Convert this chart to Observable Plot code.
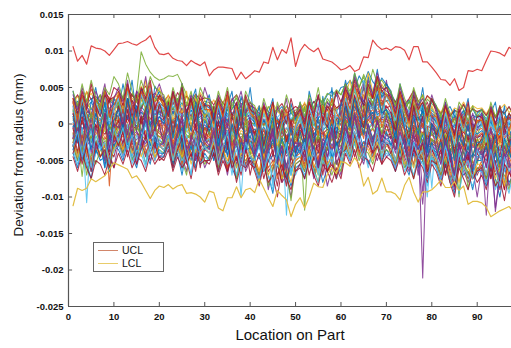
<!DOCTYPE html>
<html>
<head>
<meta charset="utf-8">
<script src="https://cdn.jsdelivr.net/npm/d3@7"></script>
<script src="https://cdn.jsdelivr.net/npm/@observablehq/plot@0.6"></script>
<style>
  html, body { margin: 0; padding: 0; background: #fff; }
  #wrap { position: relative; width: 511px; height: 348px; font-family: "Liberation Sans", Arial, sans-serif; }
  .ylab { position: absolute; left: -81px; top: 147px; width: 200px; height: 16px; line-height: 16px; text-align: center; font-size: 13.5px; color: #111; transform: rotate(-90deg); transform-origin: 50% 50%; }
  .xlab { position: absolute; left: 190px; top: 327px; width: 200px; text-align: center; font-size: 15px; line-height: 16px; color: #111; }
  .legend { position: absolute; left: 93px; top: 242px; width: 69px; height: 28px; border: 1px solid #666; background: #fff; font-size: 10.5px; color: #111; }
  .legend .row { position: absolute; left: 0; height: 12px; width: 69px; }
  .legend .sw { position: absolute; left: 4px; top: 6px; width: 20px; height: 0; border-top: 1px solid; }
  .legend .tx { position: absolute; left: 28px; top: 0px; line-height: 12px; height: 12px; }
</style>
</head>
<body>
<div id="wrap"></div>
<script>
// ---------- data ----------
const xTicks = [0, 10, 20, 30, 40, 50, 60, 70, 80, 90];
const yTicks = [-0.025, -0.02, -0.015, -0.01, -0.005, 0, 0.005, 0.01, 0.015];
const legendLabels = ["UCL", "LCL"];
const xLabel = "Location on Part";
const yLabel = "Deviation from radius (mm)";

// Upper control limit (mm), locations 1..98
const ucl = [0.0106,0.0086,0.0094,0.0082,0.0107,0.0104,0.0103,0.0100,0.0094,0.0102,
  0.0110,0.0111,0.0113,0.0110,0.0108,0.0112,0.0115,0.0121,0.0105,0.0096,
  0.0095,0.0097,0.0090,0.0087,0.0086,0.0080,0.0087,0.0083,0.0080,0.0085,
  0.0066,0.0074,0.0078,0.0078,0.0077,0.0076,0.0061,0.0071,0.0062,0.0067,
  0.0073,0.0071,0.0085,0.0083,0.0105,0.0088,0.0102,0.0097,0.0118,0.0079,
  0.0100,0.0109,0.0103,0.0099,0.0104,0.0089,0.0087,0.0085,0.0080,0.0074,
  0.0076,0.0080,0.0072,0.0075,0.0092,0.0091,0.0115,0.0107,0.0102,0.0104,
  0.0101,0.0106,0.0105,0.0101,0.0088,0.0106,0.0106,0.0085,0.0085,0.0078,
  0.0070,0.0061,0.0060,0.0053,0.0062,0.0046,0.0050,0.0073,0.0072,0.0075,
  0.0073,0.0087,0.0100,0.0099,0.0097,0.0093,0.0105,0.0101];

// Lower control limit (mm), locations 1..98
const lcl = [-0.0112,-0.0088,-0.0091,-0.0088,-0.0075,-0.0079,-0.0075,-0.0071,-0.0062,-0.0053,
  -0.0056,-0.0059,-0.0062,-0.0074,-0.0071,-0.0080,-0.0091,-0.0102,-0.0091,-0.0085,
  -0.0087,-0.0083,-0.0089,-0.0085,-0.0083,-0.0095,-0.0094,-0.0096,-0.0100,-0.0107,
  -0.0092,-0.0094,-0.0115,-0.0119,-0.0101,-0.0101,-0.0086,-0.0101,-0.0090,-0.0088,
  -0.0094,-0.0075,-0.0088,-0.0101,-0.0113,-0.0091,-0.0098,-0.0104,-0.0127,-0.0110,
  -0.0101,-0.0115,-0.0100,-0.0081,-0.0086,-0.0087,-0.0069,-0.0060,-0.0068,-0.0052,
  -0.0053,-0.0058,-0.0046,-0.0055,-0.0085,-0.0073,-0.0096,-0.0091,-0.0074,-0.0093,
  -0.0093,-0.0096,-0.0104,-0.0084,-0.0073,-0.0093,-0.0107,-0.0093,-0.0093,-0.0090,
  -0.0084,-0.0077,-0.0087,-0.0087,-0.0079,-0.0091,-0.0085,-0.0110,-0.0106,-0.0106,
  -0.0108,-0.0114,-0.0127,-0.0123,-0.0119,-0.0116,-0.0113,-0.0120];

// Measured profiles, in units of 0.0001 mm, locations 1..98 (estimated)
const bandUnit = 0.0001;
const bandSeries = [
 "24 31 19 27 35 22 29 18 33 26 28 36 24 41 30 22 38 27 33 45 31 20 27 35 18 26 22 30 17 28 25 16 30 21 13 27 19 24 32 15 18 9 22 12 6 17 24 10 15 8 14 23 11 20 27 16 9 22 18 25 30 41 27 36 48 33 25 39 44 31 35 22 29 18 31 24 14 27 20 33 19 8 16 24 11 5 18 13 21 9 15 7 18 10 22 13 6 16",
 "-12 -20 -8 -17 -25 -14 -6 -19 -22 -10 -14 -5 -18 -9 -2 -15 -11 -21 -7 -13 -19 -10 -24 -13 -8 -20 -16 -27 -12 -18 -22 -14 -28 -17 -11 -25 -20 -31 -15 -23 -30 -21 -38 -25 -33 -19 -41 -28 -35 -24 -18 -27 -15 -32 -20 -25 -36 -19 -28 -23 -12 -4 -16 -7 1 -10 -18 -5 -13 -9 -10 -19 -7 -24 -13 -17 -28 -11 -20 -15 -22 -31 -18 -35 -27 -40 -24 -33 -29 -37 -32 -25 -41 -30 -36 -22 -39 -34",
 "10 17 8 15 21 12 6 18 14 9 22 14 27 19 11 24 16 29 20 13 9 17 21 11 15 6 19 12 24 10 14 7 18 11 3 16 9 13 20 5 -3 6 -1 9 2 -6 5 -35 4 8 10 3 12 -2 8 15 5 -40 9 4 24 16 28 19 33 22 14 26 30 18 10 18 22 7 15 12 -30 17 9 13 6 -3 8 1 -5 10 -2 4 -8 3 3 -4 6 -1 5 -6 2 -3",
 "-6 3 -9 1 -4 5 -11 -1 4 -7 7 -2 9 1 -5 11 4 -3 8 0 2 -7 5 -4 -10 1 -3 6 -8 -1 -9 -2 -12 -6 1 -8 -15 -4 -10 -3 -17 -9 -20 -11 -24 -14 -7 -19 -12 -16 -5 -13 -8 -16 -3 -11 -18 -7 -12 -10 9 1 12 4 -3 8 15 2 10 6 3 -6 5 -2 7 -4 -8 -211 -5 1 -9 -17 -11 -22 -14 -8 -19 -26 -12 -16 -18 -11 -24 -14 -20 -9 -17 -22",
 "5 12 3 10 16 7 1 13 9 20 28 22 35 30 42 99 82 71 64 60 62 66 65 68 55 40 28 32 18 25 9 2 14 6 -2 11 4 17 7 0 1 -7 4 -10 -2 6 -5 -12 2 -8 5 -3 8 -1 -6 4 10 -2 7 0 19 10 24 13 28 17 8 22 14 20 13 5 17 2 11 22 7 14 3 10 1 -8 4 -5 -12 -1 6 -9 -3 -14 -1 -10 3 -7 -13 -2 -8 -4",
 "22 14 27 19 11 25 16 30 21 13 19 28 16 32 24 20 35 26 18 29 24 13 21 28 15 19 10 25 22 14 11 20 8 17 24 13 19 6 16 22 3 12 -1 9 15 5 -4 10 2 13 15 7 18 4 12 20 9 14 6 17 21 30 18 36 27 24 40 29 33 22 25 14 22 28 11 19 24 16 30 13 11 3 14 -2 9 5 16 1 8 12 9 1 12 -3 7 4 10 2",
 "-3 -12 -5 -108 -9 -2 -14 -6 -10 -1 -6 3 -9 1 -4 -11 0 -7 4 -3 -11 -3 -14 -8 -1 -10 -16 -5 -12 -6 -14 -6 -18 -9 -2 -13 -20 -100 -15 -11 -22 -14 -26 -17 -28 -19 -12 -125 -20 -15 -10 -18 -7 -21 -13 -16 -24 -9 -19 -12 4 -5 7 -2 10 -6 3 -9 5 -1 -2 -11 4 -8 -14 -3 -9 -5 -12 -88 -14 -22 -11 -26 -17 -20 -29 -13 -24 -16 -24 -16 -28 -19 -13 -25 -21 -30",
 "7 -1 10 2 -5 8 4 12 -85 6 4 12 1 15 9 5 18 7 11 3 8 -2 6 11 0 4 -5 9 2 7 -4 5 -8 2 7 -3 -9 4 -1 6 -12 -4 -15 -7 -1 -11 -18 -6 -13 -9 0 -8 3 -6 -11 -2 5 -9 -4 -7 14 6 17 9 2 13 20 8 15 11 8 0 11 -3 6 14 2 -5 9 5 -4 -13 -1 -10 -16 -6 -11 -3 -14 -9 -6 -15 -3 -12 -18 -8 -13 -11",
 "28 38 25 34 42 30 27 45 33 36 40 32 47 35 30 52 38 44 31 39 35 27 40 30 24 37 33 28 43 32 24 33 20 30 37 26 22 35 29 25 16 25 12 22 28 18 10 24 19 14 28 20 31 17 25 33 22 27 19 30 42 34 48 37 55 40 36 50 44 39 36 28 40 25 33 45 30 27 38 31 24 16 28 13 22 19 30 17 25 21 22 14 25 11 20 27 16 19",
 "-30 -20 -35 -24 -18 -32 -27 -40 -22 -29 -16 -25 -12 -28 -21 -17 -31 -23 -19 -26 -29 -20 -34 -24 -38 -22 -28 -19 -33 -26 -32 -24 -37 -27 -42 -30 -23 -35 -29 -40 -40 -31 -46 -35 -52 -38 -30 -44 -37 -48 -28 -37 -24 -41 -30 -35 -45 -27 -38 -33 -22 -14 -27 -17 -10 -24 -19 -30 -15 -21 -28 -19 -33 -22 -37 -25 -70 -21 -30 -26 -32 -41 -28 -45 -35 -50 -33 -39 -47 -37 -42 -33 -48 -37 -55 -40 -35 -46",
 "17 26 14 23 30 19 12 25 21 28 30 22 35 25 19 33 28 24 38 27 17 25 13 22 29 18 24 11 20 26 22 14 26 17 10 21 28 15 19 24 6 14 2 11 18 8 -1 12 5 15 18 10 24 30 35 28 40 45 38 50 52 60 48 66 55 72 58 50 63 54 42 30 38 25 33 20 28 15 22 18 14 6 17 3 11 8 19 4 12 9 12 4 15 1 10 6 13 7",
 "-8 -16 -72 -19 -11 -6 -14 -9 -20 -13 -3 -11 0 -14 -6 -9 -2 -13 -5 -10 -16 -8 -19 -11 -4 -15 -21 -9 -14 -7 -11 -19 -8 -22 -14 -6 -17 -13 -20 -10 -19 -27 -15 -30 -22 -34 -18 -25 -29 -21 -15 -118 -12 -26 -18 -22 -14 -20 -17 -24 -1 -9 2 -12 -4 -7 0 -11 -3 -8 -7 -15 -4 -18 -10 -13 -6 -16 -9 -14 -19 -27 -15 -31 -22 -100 -18 -26 -20 -29 -21 -29 -18 -32 -24 -27 -20 -30",
 "2 10 -1 8 13 4 -3 11 6 15 15 7 19 10 4 16 12 21 8 14 10 2 13 5 -1 9 15 3 7 11 -1 7 -4 5 10 1 -6 8 3 -2 -1 -9 2 -7 -12 -3 -10 -5 -14 -2 3 -5 6 -3 -8 1 -4 7 -2 4 17 9 21 12 6 18 24 11 15 8 11 3 14 1 9 16 5 -2 10 6 -1 -9 2 -12 -4 -7 0 -10 -3 -8 -3 -11 0 -14 -6 -9 -2 -12",
 "-15 -23 -12 -26 -18 -29 -16 -21 -11 -24 -10 -18 -7 -21 -13 -16 -9 -20 -12 -17 -23 -15 -27 -18 -11 -22 -30 -16 -20 -13 -18 -26 -14 -29 -21 -25 -17 -32 -20 -24 -26 -34 -22 -37 -29 -33 -25 -40 -28 -31 -30 -22 -34 -25 -18 -29 -23 -33 -27 -21 -8 -16 -5 -19 -11 -14 -7 -18 -10 -15 -14 -22 -11 -25 -17 -20 -13 -24 -16 -21 -26 -34 -23 -38 -29 -32 -25 -36 -28 -33 -28 -36 -25 -40 -31 -34 -27 -38",
 "15 7 18 10 4 14 20 9 13 6 12 20 9 23 15 19 11 25 14 18 15 6 18 10 22 8 13 4 16 9 12 4 15 7 1 10 17 5 9 13 4 -4 7 -2 -8 3 -5 9 -1 -6 8 0 11 2 -4 6 13 1 5 -2 22 14 26 17 11 23 30 16 20 13 16 8 19 5 13 21 10 -2 15 9 4 -5 7 -3 -9 2 -6 5 -1 -8 2 -7 5 -4 -10 1 -6 3",
 "-1 -9 2 -7 -12 -3 -8 -14 -4 -6 4 -4 7 -2 -7 3 10 -1 5 -3 -1 -9 3 -6 -12 -2 -8 -15 -4 -7 -4 -12 -1 -10 -16 -6 -11 -3 -14 -9 -12 -20 -9 -23 -15 -18 -11 -22 -14 -19 -8 -16 -5 -19 -11 -14 -7 -18 -10 -15 6 -2 9 0 -5 5 12 -1 7 3 0 -8 3 -6 -11 -2 -7 -13 -3 -5 -12 -20 -9 -24 -15 -18 -11 -22 -14 -19 -14 -22 -11 -26 -17 -20 -13 -24",
 "19 11 22 14 8 18 25 12 16 21 24 16 28 19 13 25 31 18 22 15 19 10 23 14 8 18 26 12 16 21 8 16 5 14 20 10 3 15 11 18 0 8 -3 6 12 2 -5 9 4 15 12 20 28 22 35 30 42 38 47 40 55 45 62 50 68 52 44 60 48 56 40 28 35 22 30 18 26 20 14 22 8 0 11 -2 6 3 10 -4 7 1 6 -2 9 -5 4 1 8 -1",
 "-4 5 -7 2 8 -2 -9 4 -1 6 9 1 12 3 -3 8 14 2 6 10 4 -5 7 -2 -8 3 9 -4 1 -6 1 -7 4 -5 -10 -1 -8 3 -4 -12 -7 -15 -4 -18 -10 -13 -6 -17 -9 -14 -3 -11 0 -14 -6 -9 -2 -12 -5 -10 11 3 14 5 -1 10 16 4 8 12 5 -3 8 -1 -6 4 10 -2 6 0 -7 -15 -4 -18 -10 -13 -6 -17 -9 -14 -9 -17 -6 -20 -12 -15 -8 -18",
 "35 26 40 30 48 33 25 42 36 29 28 37 24 40 31 45 27 35 30 38 26 18 30 20 14 25 32 17 23 28 12 20 8 18 24 14 6 19 15 22 2 10 -1 8 14 4 -3 11 5 0 14 6 17 8 2 12 19 7 11 15 30 22 34 25 40 28 20 35 27 32 22 14 26 11 19 28 16 9 21 15 10 2 13 -1 7 4 15 0 8 3 8 0 11 -3 6 2 9 -1",
 "-28 -37 -24 -41 -30 -35 -45 -27 -38 -33 -23 -31 -19 -35 -26 -30 -22 -34 -25 -29 -36 -27 -40 -31 -45 -29 -35 -25 -38 -33 -31 -40 -27 -44 -34 -38 -30 -48 -36 -32 -39 -48 -35 -52 -42 -46 -38 -56 -41 -45 -35 -44 -31 -48 -38 -42 -34 -47 -37 -41 -21 -29 -18 -33 -24 -28 -20 -32 -23 -27 -27 -35 -24 -39 -30 -34 -26 -38 -29 -33 -39 -47 -35 -52 -42 -46 -38 -50 -41 -45 -41 -50 -37 -54 -44 -48 -40 -52",
 "33 24 37 27 21 31 40 26 29 35 29 38 26 42 32 36 28 45 31 37 24 32 21 35 27 30 23 38 26 31 29 21 33 24 18 28 35 22 26 30 13 21 10 24 16 20 12 25 15 19 25 17 28 20 14 24 31 18 22 27 39 31 44 34 50 37 30 46 38 42 33 25 37 22 30 41 27 20 34 28 21 13 24 10 18 15 26 12 20 16 19 11 22 8 17 14 23 12",
 "-14 -5 -17 -8 -2 -12 -19 -6 -10 -15 -8 1 -11 -3 4 -7 -13 -1 -6 2 -5 -13 -2 -16 -8 -11 -4 -18 -7 -12 -16 -8 -20 -11 -5 -15 -22 -9 -13 -18 -24 -16 -28 -19 -13 -23 -31 -17 -21 -26 -12 -20 -9 -24 -15 -18 -11 -22 -14 -19 2 -6 5 -3 -9 1 7 -5 0 -4 -4 -12 -1 -15 -7 -10 -3 -14 -6 -11 -16 -24 -13 -27 -19 -22 -15 -26 -18 -23 -18 -26 -15 -29 -21 -24 -17 -28",
 "13 21 10 24 16 19 12 26 15 20 26 18 30 21 15 27 33 19 24 17 21 13 25 16 10 20 27 14 18 23 10 18 7 21 13 16 9 22 12 17 10 2 13 5 -1 9 16 4 8 12 6 14 3 17 9 12 5 18 8 13 28 20 32 23 17 29 36 21 26 19 14 22 11 25 17 20 13 26 16 21 10 2 14 4 -2 9 16 3 7 11 0 8 -3 11 3 6 -1 9",
 "-18 -26 -15 -30 -21 -25 -17 -29 -20 -24 -21 -13 -25 -16 -10 -20 -27 -14 -18 -23 -26 -18 -30 -21 -15 -25 -33 -19 -23 -28 -21 -29 -18 -33 -24 -28 -20 -31 -23 -27 -37 -29 -41 -32 -26 -36 -44 -30 -34 -39 -25 -33 -22 -37 -28 -31 -24 -36 -27 -32 -19 -11 -23 -14 -8 -18 -25 -12 -16 -21 -17 -25 -14 -29 -20 -24 -16 -95 -19 -23 -29 -37 -26 -41 -32 -36 -28 -40 -31 -35 -31 -39 -28 -43 -34 -38 -30 -42",
 "31 40 28 44 34 38 30 47 33 37 44 36 49 39 33 45 52 37 42 35 31 39 27 43 34 38 30 41 33 36 34 26 38 29 23 33 40 27 31 25 22 14 25 17 11 21 28 15 19 24 20 28 17 31 23 27 19 32 22 26 46 38 51 41 57 44 36 53 45 40 38 30 42 27 35 46 32 25 39 33 22 14 25 11 19 16 27 13 21 17 20 12 23 9 18 15 24 13",
 "1 -7 4 -5 -10 -1 -8 3 -4 -12 -2 6 -5 9 1 4 -3 8 0 5 1 -7 4 -10 -2 -6 2 -9 -1 -5 -10 -2 -13 -5 1 -9 -15 -3 -7 -11 -10 -18 -7 -21 -13 -16 -9 -20 -12 -17 -14 -6 -17 -9 -3 -13 -20 -7 -11 -15 0 8 -3 11 3 6 -1 10 2 7 -6 2 -9 -1 5 -5 -11 1 -3 -7 -10 -18 -7 -22 -13 -16 -9 -20 -12 -17 -12 -20 -9 -24 -15 -18 -11 -22",
 "13 5 16 8 2 12 19 6 10 14 10 18 7 21 13 16 9 22 12 17 13 5 17 8 2 12 19 6 10 15 2 10 -1 13 5 8 1 12 4 9 2 -6 5 -4 -9 1 -7 4 -3 -11 -2 6 -5 9 1 4 -3 8 0 5 20 12 24 15 9 21 28 13 18 11 6 14 3 17 9 12 5 18 8 13 2 -6 5 -9 -1 -4 3 -8 0 -5 0 -8 3 -11 -3 -6 1 -9",
 "-13 -21 -10 -24 -16 -19 -12 -25 -15 -20 -16 -8 -19 -11 -5 -15 -22 -9 -13 -18 -13 -21 -10 -25 -16 -19 -12 -24 -15 -20 -24 -16 -28 -19 -13 -23 -30 -17 -21 -26 -24 -32 -21 -35 -27 -30 -23 -36 -26 -31 -28 -20 -32 -23 -17 -27 -34 -21 -25 -30 -6 -14 -3 -17 -9 -12 -5 -16 -8 -13 -20 -12 -24 -15 -9 -19 -26 -13 -17 -22 -24 -32 -21 -36 -27 -30 -23 -35 -26 -31 -26 -34 -23 -38 -29 -32 -25 -36",
 "-40 -60 -30 -55 -75 -35 -50 -45 -65 -30 -35 -50 -25 -45 -60 -30 -40 -55 -20 -45 -45 -30 -60 -40 -70 -35 -50 -25 -55 -40 -50 -35 -65 -45 -30 -60 -75 -40 -55 -45 -60 -80 -50 -70 -95 -55 -75 -65 -85 -60 -55 -75 -45 -65 -50 -80 -60 -40 -70 -55 -35 -50 -25 -45 -30 -55 -40 -20 -50 -35 -45 -65 -35 -55 -70 -40 -60 -50 -75 -45 -60 -80 -50 -75 -95 -55 -70 -65 -90 -60 -65 -85 -55 -75 -100 -60 -80 -70",
 "30 -15 22 -28 10 35 -20 5 -32 18 40 -5 28 -18 45 12 -22 38 0 25 -20 30 -8 25 -35 15 40 -12 20 -25 10 -30 22 -15 35 -40 5 28 -22 12 -35 5 -45 -10 20 -50 -5 15 -38 0 18 -30 10 -42 25 -8 -55 12 -20 30 45 5 38 -10 55 20 -5 42 15 60 20 -25 35 -10 -45 25 -30 10 -60 15 -20 -50 10 -35 -65 0 -30 -55 5 -40 -25 -60 -5 -40 15 -55 -20 -35",
 "45 10 38 -5 30 50 15 42 -8 35 20 55 25 60 10 48 30 -5 52 40 35 -10 42 15 55 0 30 48 -15 25 40 5 32 -20 25 45 -5 38 10 50 0 25 -30 15 35 -20 10 -40 28 5 30 -10 45 20 -25 38 5 50 -15 25 60 30 70 45 25 65 40 75 35 55 45 10 55 25 -10 40 15 50 0 35 25 -15 30 -5 20 -35 10 35 -20 15 20 -25 15 30 -10 25 -30 10",
 "-30 -50 -20 -45 -65 -35 -25 -55 -40 -60 -25 -45 -15 -40 -55 -20 -35 -50 -30 -45 -40 -20 -55 -30 -45 -65 -25 -50 -35 -60 -45 -30 -60 -40 -70 -35 -55 -25 -65 -50 -55 -75 -45 -90 -60 -50 -80 -70 -100 -55 -50 -65 -40 -75 -55 -45 -85 -60 -50 -70 -30 -45 -20 -40 -55 -25 -35 -50 -30 -45 -40 -60 -30 -50 -65 -35 -55 -45 -70 -40 -55 -75 -45 -70 -90 -50 -65 -80 -60 -100 -60 -80 -50 -115 -70 -55 -85 -65",
 "-5 -40 10 -30 -55 0 -25 15 -45 -10 5 -30 20 -15 -45 10 -20 25 -35 0 -30 5 -45 -15 10 -50 -20 0 -60 -25 -10 -45 5 -35 -60 -15 10 -40 -25 -70 -40 -15 -65 -30 -5 -55 -80 -25 -45 -10 -35 -60 -15 -50 -20 -70 -30 -5 -55 -40 5 -30 15 -20 25 -10 -40 10 -25 0 -20 5 -45 -15 -60 -5 -30 -50 -10 -35 -45 -20 -70 -35 -85 -25 -55 -15 -65 -40 -50 -25 -75 -40 -60 -90 -35 -55",
 "20 -10 35 5 -25 25 40 -5 15 -20 30 5 45 15 -10 38 20 50 0 28 10 35 -15 25 -30 20 5 40 -20 15 -15 20 -35 10 30 -25 15 -5 25 -40 -20 10 -35 -5 20 -45 0 -25 -70 -10 -5 25 -30 10 -20 35 -15 5 -40 20 35 10 50 20 -5 45 25 60 15 40 25 -5 40 10 -25 30 0 -40 20 -15 -10 15 -30 5 -45 -20 10 -35 -5 -55 -30 0 -45 -15 5 -40 -20 -10",
 "-25 -45 -15 -40 -55 -30 -20 -50 -35 -45 -20 -40 -10 -35 -50 -25 -45 -15 -40 -30 -35 -15 -50 -25 -60 -30 -45 -20 -55 -35 -40 -25 -55 -35 -65 -30 -50 -20 -60 -45 -50 -70 -40 -65 -55 -85 -45 -75 -60 -50 -45 -60 -35 -70 -50 -40 -65 -55 -75 -45 -25 -40 -15 -35 -50 -20 -45 -30 -40 -25 -35 -55 -25 -45 -60 -30 -50 -40 -65 -35 -50 -70 -40 -65 -85 -45 -60 -75 -55 -70 -55 -75 -45 -70 -60 -90 -50 -65",
 "-20 15 -35 5 -10 25 -30 0 20 -25 10 -15 30 -5 20 -25 15 35 -10 5 -15 20 -30 0 -45 10 -20 25 -35 -5 -25 5 -40 15 -20 -50 0 -30 10 -35 -30 -5 -50 -20 5 -40 -60 -15 -35 -25 -10 -35 5 -25 -50 -5 -30 10 -45 -20 20 -10 30 0 -20 25 5 35 -5 15 0 -25 15 -10 -35 5 -20 -45 -5 -30 -25 0 -40 -15 -55 -10 -35 5 -45 -20 -35 -10 -50 -20 -5 -45 -25 -60",
 "35 0 25 45 10 30 -10 40 20 5 45 20 55 10 40 30 60 15 35 50 25 40 5 30 15 45 -5 35 20 10 20 -5 30 10 40 -15 25 5 35 15 10 -20 20 -5 25 -30 5 15 -25 0 15 30 -5 20 -20 25 10 35 0 -10 40 60 25 50 35 70 45 30 55 40 30 10 45 20 -5 35 15 40 0 25 10 -15 20 0 -25 15 -10 25 -20 5 5 -20 15 -5 -30 10 -15 20",
 "-30 -50 -25 -70 -40 -55 -35 -45 -60 -30 -25 -40 -20 -50 -35 -30 -55 -25 -45 -35 -40 -25 -55 -35 -50 -70 -30 -45 -40 -55 -45 -30 -60 -40 -55 -35 -75 -45 -50 -40 -55 -70 -45 -85 -60 -50 -75 -65 -105 -55 -50 -65 -40 -60 -80 -45 -55 -70 -50 -65 -30 -45 -25 -50 -35 -40 -55 -30 -45 -35 -40 -55 -35 -60 -45 -75 -40 -50 -65 -45 -55 -70 -50 -80 -60 -95 -55 -65 -75 -60 -60 -75 -55 -85 -65 -70 -90 -60",
 "-15 -45 -5 -60 -20 -35 -10 -50 -25 -40 -10 -35 0 -45 -15 -30 -55 -5 -40 -20 -30 -5 -50 -20 -65 -15 -35 -10 -45 -25 -20 -50 -10 -40 -30 -70 -15 -55 -35 -25 -45 -20 -60 -35 -80 -30 -50 -25 -70 -40 -30 -55 -20 -45 -65 -25 -50 -35 -75 -40 -10 -35 0 -25 -45 -5 -30 -15 -40 -20 -25 -50 -15 -40 -20 -60 -30 -45 -35 -55 -40 -65 -30 -55 -75 -35 -50 -25 -60 -45 -45 -70 -35 -55 -30 -65 -50 -75",
 "40 20 50 25 10 45 30 55 15 35 50 30 60 20 45 35 65 25 40 55 35 15 45 25 55 10 40 30 20 50 30 10 40 20 -5 35 25 45 15 30 20 -5 30 5 -20 25 10 35 -10 15 25 5 35 15 40 0 30 20 45 10 55 35 65 45 30 60 40 70 50 45 40 20 50 30 10 45 25 35 15 40 20 0 30 10 -15 25 5 -10 15 -5 15 -10 25 0 20 -15 10 5",
 "-20 -40 -15 -35 -50 -25 -45 -30 -55 -20 -15 -35 -10 -30 -45 -20 -40 -25 -50 -30 -30 -15 -45 -25 -55 -20 -40 -35 -50 -25 -35 -20 -50 -30 -60 -25 -45 -40 -55 -30 -45 -65 -35 -60 -50 -75 -40 -70 -55 -45 -40 -55 -30 -60 -45 -35 -65 -50 -70 -40 -20 -35 -10 -40 -25 -30 -45 -15 -35 -25 -30 -50 -20 -45 -35 -55 -25 -40 -60 -30 -45 -65 -35 -60 -80 -40 -55 -70 -50 -65 -50 -70 -40 -65 -55 -80 -45 -60",
 "-25 5 -40 -10 15 -30 -5 -45 0 -20 -5 20 -20 10 -35 0 25 -15 5 -30 -20 0 -35 -10 -50 5 -25 -40 -5 -30 -30 -10 -45 0 -25 -55 -15 -35 5 -40 -35 -10 -55 -25 0 -45 -20 -65 -30 -15 -25 -45 -5 -35 -15 -55 -30 -10 -40 -20 5 -20 15 -10 25 -5 -30 10 -15 20 -10 -35 5 -25 -45 -15 -5 -30 -55 -20 -30 -50 -15 -40 -25 -60 -35 -90 -45 -20 -40 -15 -55 -30 -65 -25 -45 -35",
 "15 -20 30 0 -10 25 -25 10 35 -5 25 -5 35 10 40 0 20 45 -10 30 5 30 -15 20 -25 15 35 -5 25 -20 0 25 -20 15 -35 10 -15 20 -30 5 -15 10 -30 0 -45 -10 15 -25 5 -40 0 -25 15 -15 -40 10 -5 20 -30 -10 30 0 40 15 -5 35 20 50 10 25 15 -10 30 5 -20 25 -5 10 -35 0 -15 5 -25 -5 -40 0 -20 -50 -10 -30 -20 5 -35 -10 -45 -5 -25 -15",
 "-35 -55 -25 -50 -65 -40 -30 -60 -45 -35 -30 -45 -20 -55 -35 -40 -60 -25 -50 -35 -45 -25 -60 -35 -50 -40 -70 -30 -55 -45 -50 -35 -65 -40 -55 -45 -70 -35 -60 -50 -60 -75 -50 -70 -90 -55 -65 -80 -60 -70 -55 -70 -45 -65 -80 -50 -60 -45 -75 -55 -35 -50 -25 -45 -35 -60 -40 -30 -50 -40 -45 -60 -40 -65 -50 -70 -45 -55 -85 -45 -60 -75 -55 -80 -65 -95 -60 -70 -85 -65 -65 -80 -60 -90 -70 -75 -95 -65",
 "-35 -10 -50 -20 -5 -40 -25 -60 -15 -30 -20 0 -35 -10 -45 -25 5 -30 -15 -40 -40 -15 -55 -25 -5 -45 -30 -60 -20 -35 -30 -50 -20 -45 -10 -40 -60 -25 -35 -15 -50 -25 -65 -40 -20 -55 -35 -75 -45 -30 -40 -20 -55 -30 -60 -35 -15 -50 -25 -45 -15 5 -25 -10 -35 0 -20 -5 -30 -10 -30 -10 -40 -20 -55 -25 -35 -15 -45 -25 -45 -25 -60 -35 -70 -40 -55 -30 -65 -50 -50 -30 -65 -40 -75 -45 -35 -60",
 "25 -5 35 10 -15 30 15 40 0 20 35 10 45 20 0 40 25 50 15 30 20 -5 35 10 40 -10 25 5 30 15 15 -10 25 5 30 -15 20 -5 35 10 5 -20 15 -10 20 -25 0 10 -30 -5 10 -15 25 0 30 -10 15 -20 20 5 35 15 50 25 60 30 20 45 10 40 25 5 35 -5 20 40 10 30 -15 15 5 -20 15 -5 -30 10 -10 20 -25 0 0 -25 10 -15 15 -30 5 -10",
 "-25 -45 -20 -40 -55 -30 -45 -25 -50 -35 -20 -35 -15 -40 -25 -45 -30 -20 -45 -30 -35 -20 -50 -30 -45 -25 -55 -35 -40 -30 -40 -25 -55 -35 -50 -30 -60 -40 -45 -35 -50 -65 -40 -70 -55 -45 -75 -60 -80 -50 -45 -60 -35 -55 -70 -40 -55 -45 -65 -50 -25 -40 -20 -45 -30 -35 -50 -25 -40 -30 -35 -50 -30 -55 -40 -60 -35 -45 -55 -40 -50 -65 -45 -70 -55 -80 -50 -60 -75 -55 -55 -70 -50 -75 -60 -85 -55 -70",
 "-20 10 -30 5 -40 -5 -25 15 -35 0 -5 20 -15 25 -10 -30 10 -20 30 -5 -25 5 -35 -10 15 -45 -15 -30 0 -20 -30 -5 -40 10 -25 -50 -10 -20 -40 0 -40 -15 -55 -25 -5 -50 -30 -60 -20 -35 -25 -45 -10 -35 -55 -20 -30 -5 -45 -15 0 -25 15 -15 20 -10 -30 5 -20 10 -15 -35 0 -25 -45 -10 -55 -110 -30 -5 -35 -55 -20 -45 -70 -25 -40 -60 -15 -50 -35 -60 -20 -120 -70 -30 -50 -95",
 "30 5 40 15 -5 35 20 45 10 25 40 15 50 25 5 45 30 55 20 35 25 0 40 15 45 -5 30 10 35 20 20 0 30 10 40 -10 25 5 35 15 10 -15 25 0 30 -20 5 20 -10 15 20 -5 30 10 -15 25 0 35 15 5 45 20 55 30 10 50 35 65 25 40 30 10 40 20 0 35 15 -5 25 10 10 -10 25 0 -20 15 -5 20 -15 5 5 -15 20 -5 -25 10 -10 15",
 "-45 -65 -40 -60 -75 -50 -55 -70 -45 -60 -40 -55 -35 -60 -45 -50 -65 -40 -55 -45 -50 -35 -65 -45 -60 -50 -75 -40 -55 -50 -55 -40 -70 -50 -65 -45 -80 -55 -60 -50 -65 -85 -55 -80 -70 -100 -60 -75 -90 -65 -60 -75 -50 -70 -85 -55 -65 -80 -60 -75 -40 -55 -35 -60 -45 -50 -65 -40 -55 -45 -50 -65 -45 -70 -55 -75 -50 -60 -80 -55 -65 -85 -55 -80 -100 -60 -75 -90 -65 -80 -70 -90 -60 -85 -75 -105 -65 -80",
 "-40 -20 -55 -30 -65 -25 -45 -35 -60 -15 -30 -10 -45 -20 -55 -35 -15 -40 -25 -50 -45 -25 -60 -35 -20 -55 -40 -65 -30 -50 -50 -30 -65 -40 -25 -60 -45 -70 -35 -55 -60 -40 -75 -50 -35 -70 -55 -85 -45 -65 -55 -35 -70 -45 -60 -30 -65 -50 -75 -40 -35 -15 -45 -25 -50 -20 -40 -30 -55 -25 -40 -20 -55 -30 -60 -35 -45 -25 -65 -50 -55 -35 -70 -45 -85 -50 -60 -40 -75 -65 -60 -40 -75 -50 -90 -55 -65 -80",
 "45 25 55 30 60 35 20 50 40 65 55 35 70 45 30 60 40 65 50 45 40 20 50 30 55 25 45 15 50 35 35 15 45 25 50 20 40 10 45 30 25 5 35 15 -5 30 10 40 20 0 30 10 40 20 50 15 35 25 45 40 55 40 70 50 65 45 75 55 60 50 45 25 55 35 20 50 30 40 15 35 25 10 35 15 0 30 20 5 25 10 20 0 30 10 25 -5 15 5",
 "10 -25 25 -10 -35 15 -5 30 -20 5 20 -10 35 0 25 -20 15 40 -5 10 0 25 -20 10 -35 20 -10 30 -25 5 -10 15 -30 5 -45 0 -20 20 -35 -5 -25 0 -40 -15 10 -50 -20 -35 -5 -45 -10 -35 5 -25 10 -45 -15 0 -30 -20 25 -5 35 10 -15 30 0 40 15 20 5 -20 20 -5 -30 10 -15 25 -40 0 -20 5 -35 -10 -50 -15 -30 0 -45 -25 -25 -5 -40 -15 -55 -20 -35 -10",
 "-30 -5 -45 -15 0 -35 -20 -50 -10 -25 -15 10 -25 0 -35 -10 15 -20 -5 -30 -25 -5 -40 -15 5 -35 -20 -50 -10 -30 -35 -10 -50 -20 0 -40 -25 -55 -15 -30 -45 -20 -60 -35 -10 -55 -30 -65 -40 -25 -30 -50 -15 -40 -60 -25 -45 -10 -55 -35 -5 -30 10 -20 -40 0 -25 5 -35 -15 -20 -40 -10 -30 -55 -15 -35 -25 -45 -30 -35 -55 -25 -45 -70 -30 -50 -40 -60 -35 -40 -125 -30 -55 -75 -40 -60 -50",
 "35 15 45 20 55 25 10 40 30 50 45 25 55 30 15 50 35 60 20 40 30 10 45 20 50 15 35 5 40 25 25 5 35 15 45 10 30 -5 40 20 15 -5 25 5 30 -10 20 0 35 10 20 0 30 10 40 5 25 15 45 30 50 30 60 40 25 55 35 65 45 50 35 15 45 25 5 40 20 30 10 35 15 -5 25 5 -15 20 0 30 -10 10 10 -10 20 0 25 -5 15 5",
 "-30 -10 -45 -20 -60 -15 -35 -25 -55 -5 -25 -5 -35 -15 -50 -20 0 -40 -10 -30 -35 -15 -50 -25 -10 -45 -70 -20 -40 -30 -40 -20 -55 -30 -10 -50 -35 -65 -25 -45 -50 -30 -65 -40 -85 -35 -55 -25 -70 -45 -45 -25 -60 -35 -70 -40 -20 -55 -30 -50 -20 -40 -10 -30 -50 -15 -35 -5 -45 -25 -30 -50 -20 -40 -60 -25 -45 -35 -100 -30 -45 -65 -30 -55 -80 -40 -60 -50 -75 -35 -50 -70 -35 -60 -85 -45 -65 -55"
];
const bandColors = ["#0072BD","#D95319","#0072BD","#7E2F8E","#77AC30","#A2142F","#4DBEEE",
  "#D95319","#EDB120","#7E2F8E","#0072BD","#77AC30","#4DBEEE","#D95319",
  "#7E2F8E","#A2142F","#77AC30","#0072BD","#D95319","#0072BD","#77AC30",
  "#EDB120","#4DBEEE","#7E2F8E","#A2142F","#D95319","#0072BD","#77AC30",
  "#0072BD","#7E2F8E","#0072BD","#7E2F8E","#A2142F","#77AC30","#A2142F",
  "#D95319","#EDB120","#77AC30","#4DBEEE","#7E2F8E","#D95319","#77AC30",
  "#A2142F","#4DBEEE","#0072BD","#4DBEEE","#EDB120","#7E2F8E","#D95319",
  "#A2142F","#A2142F","#77AC30","#0072BD","#7E2F8E","#A2142F","#4DBEEE"];

// ---------- build tables ----------
const bandRows = [];
bandSeries.forEach((s, k) => {
  s.trim().split(/\s+/).forEach((v, i) => bandRows.push({loc: i + 1, dev: +v * bandUnit, id: "s" + k}));
});
const limitRows = [
  ...ucl.map((v, i) => ({loc: i + 1, dev: v, id: "UCL"})),
  ...lcl.map((v, i) => ({loc: i + 1, dev: v, id: "LCL"}))
];
const ids = bandSeries.map((_, k) => "s" + k);

const fmt = d => {
  if (Math.abs(d) < 1e-12) return "0";
  return String(+d.toFixed(3));
};

const yMin = yTicks[0], yMax = yTicks[yTicks.length - 1];
const chart = Plot.plot({
  width: 511,
  height: 348,
  marginLeft: 68,
  marginRight: 0,
  marginTop: 14,
  marginBottom: 42,
  style: {fontFamily: "'Liberation Sans', Arial, sans-serif", fontSize: "9.5px", fontWeight: "bold", color: "#111", background: "#fff"},
  x: {domain: [0, 97.55], axis: null},
  y: {domain: [yMin, yMax], axis: null},
  color: {domain: [...ids, "UCL", "LCL"], range: [...bandColors, "#E04848", "#E2BE45"]},
  marks: [
    Plot.lineY(bandRows, {x: "loc", y: "dev", z: "id", stroke: "id", strokeWidth: 1.05, strokeOpacity: 0.85, clip: true}),
    Plot.lineY(limitRows, {x: "loc", y: "dev", z: "id", stroke: "id", strokeWidth: 1.2, clip: true}),
    Plot.ruleY([yMin, yMax], {stroke: "#555", strokeWidth: 1}),
    Plot.ruleX([0], {stroke: "#555", strokeWidth: 1.2}),
    Plot.ruleX(xTicks.slice(1), {y1: yMin, y2: yMin + 0.00055, stroke: "#555"}),
    Plot.ruleX(xTicks.slice(1), {y1: yMax, y2: yMax - 0.00055, stroke: "#555"}),
    Plot.ruleY(yTicks.slice(1, -1), {x1: 0, x2: 0.9, stroke: "#555"}),
    Plot.axisX(xTicks, {anchor: "bottom", tickSize: 0, tickPadding: 7, tickFormat: d => String(d), label: null}),
    Plot.axisY(yTicks, {anchor: "left", tickSize: 0, tickPadding: 5, tickFormat: fmt, label: null})
  ]
});

const wrap = document.getElementById("wrap");
wrap.appendChild(chart);
const yl = document.createElement("div"); yl.className = "ylab"; yl.textContent = yLabel; wrap.appendChild(yl);
const xl = document.createElement("div"); xl.className = "xlab"; xl.textContent = xLabel; wrap.appendChild(xl);
const lg = document.createElement("div"); lg.className = "legend";
const legendSwatch = ["#D2866A", "#E8CC6A"];
legendLabels.forEach((t, i) => {
  const r = document.createElement("div"); r.className = "row"; r.style.top = (1 + i * 13) + "px";
  const sw = document.createElement("div"); sw.className = "sw"; sw.style.borderTopColor = legendSwatch[i];
  const tx = document.createElement("div"); tx.className = "tx"; tx.textContent = t;
  r.appendChild(sw); r.appendChild(tx); lg.appendChild(r);
});
wrap.appendChild(lg);
</script>
</body>
</html>
